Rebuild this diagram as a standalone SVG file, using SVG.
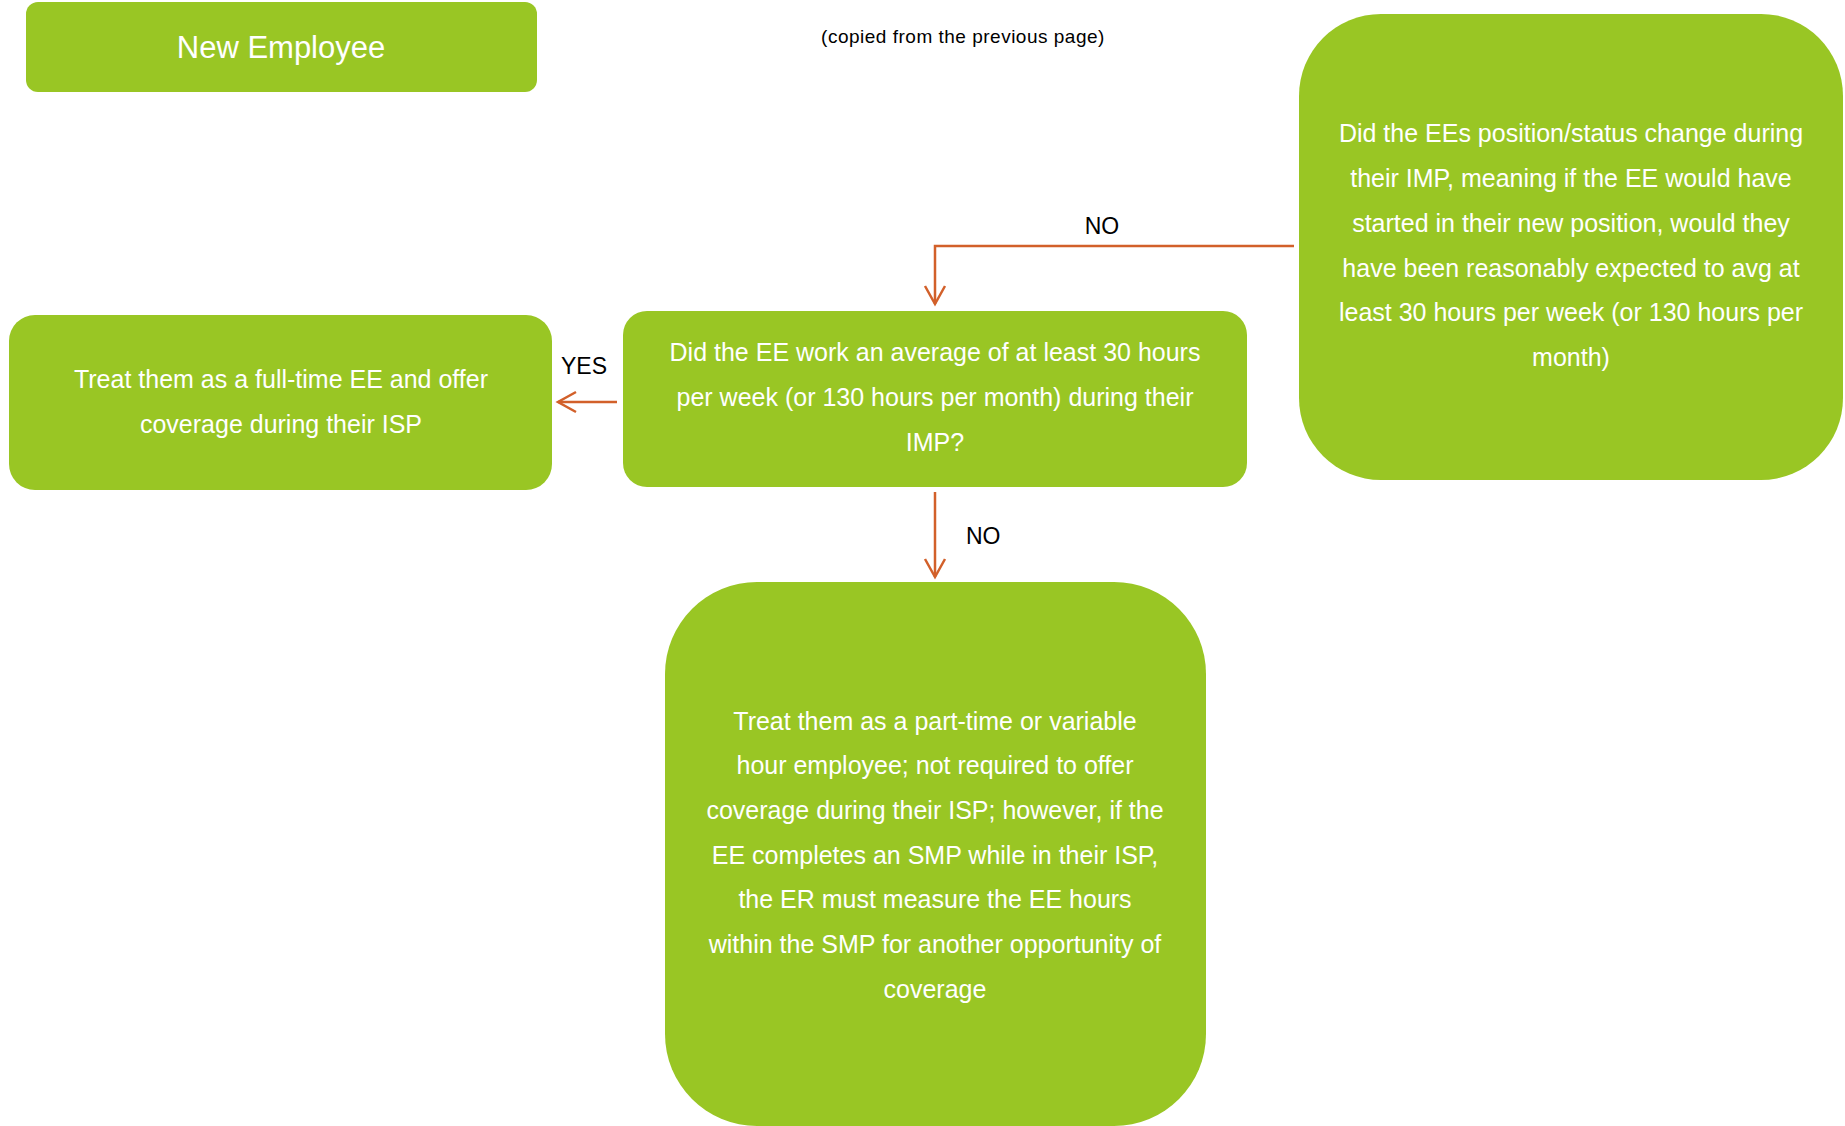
<svg xmlns="http://www.w3.org/2000/svg" width="1845" height="1126" viewBox="0 0 1845 1126">
  <style>
    .box { fill: #99C624; }
    .t { font-family: "Liberation Sans", Arial, sans-serif; fill: #ffffff; font-size: 25px; text-anchor: middle; }
    .lbl { font-family: "Liberation Sans", Arial, sans-serif; fill: #000000; font-size: 23px; }
    .note { font-family: "Liberation Sans", Arial, sans-serif; fill: #000000; font-size: 19px; letter-spacing: 0.5px; text-anchor: middle; }
    .title { font-family: "Liberation Sans", Arial, sans-serif; fill: #ffffff; font-size: 31px; text-anchor: middle; }
    .conn { fill: none; stroke: #D2602A; stroke-width: 2.5; }
  </style>
  <defs>
    <marker id="arr" viewBox="-20 -12 22 24" refX="0" refY="0" markerWidth="22" markerHeight="24" markerUnits="userSpaceOnUse" orient="auto" overflow="visible">
      <path d="M-18,-10 L0,0 L-18,10" fill="none" stroke="#D2602A" stroke-width="2.5"/>
    </marker>
  </defs>
  <rect width="1845" height="1126" fill="#ffffff"/>

  <text class="note" x="963" y="43">(copied from the previous page)</text>

  <g id="new-employee">
    <rect class="box" x="26" y="2" width="511" height="90" rx="12"/>
    <text class="title" x="281" y="58">New Employee</text>
  </g>

  <g id="position-change">
    <rect class="box" x="1299" y="14" width="544" height="466" rx="82"/>
    <text class="t" x="1571" y="142">Did the EEs position/status change during</text>
    <text class="t" x="1571" y="187">their IMP, meaning if the EE would have</text>
    <text class="t" x="1571" y="232">started in their new position, would they</text>
    <text class="t" x="1571" y="277">have been reasonably expected to avg at</text>
    <text class="t" x="1571" y="321">least 30 hours per week (or 130 hours per</text>
    <text class="t" x="1571" y="366">month)</text>
  </g>

  <g id="avg-hours">
    <rect class="box" x="623" y="311" width="624" height="176" rx="24"/>
    <text class="t" x="935" y="361">Did the EE work an average of at least 30 hours</text>
    <text class="t" x="935" y="406">per week (or 130 hours per month) during their</text>
    <text class="t" x="935" y="451">IMP?</text>
  </g>

  <g id="full-time">
    <rect class="box" x="9" y="315" width="543" height="175" rx="26"/>
    <text class="t" x="281" y="388">Treat them as a full-time EE and offer</text>
    <text class="t" x="281" y="433">coverage during their ISP</text>
  </g>

  <g id="part-time">
    <rect class="box" x="665" y="582" width="541" height="544" rx="92"/>
    <text class="t" x="935" y="730">Treat them as a part-time or variable</text>
    <text class="t" x="935" y="774">hour employee; not required to offer</text>
    <text class="t" x="935" y="819">coverage during their ISP; however, if the</text>
    <text class="t" x="935" y="864">EE completes an SMP while in their ISP,</text>
    <text class="t" x="935" y="908">the ER must measure the EE hours</text>
    <text class="t" x="935" y="953">within the SMP for another opportunity of</text>
    <text class="t" x="935" y="998">coverage</text>
  </g>

  <g id="connectors">
    <path class="conn" d="M1294,246 L935,246 L935,304" marker-end="url(#arr)"/>
    <text class="lbl" x="1102" y="234" text-anchor="middle">NO</text>
    <path class="conn" d="M617,402 L558,402" marker-end="url(#arr)"/>
    <text class="lbl" x="561" y="374">YES</text>
    <path class="conn" d="M935,492 L935,577" marker-end="url(#arr)"/>
    <text class="lbl" x="966" y="544">NO</text>
  </g>
</svg>
